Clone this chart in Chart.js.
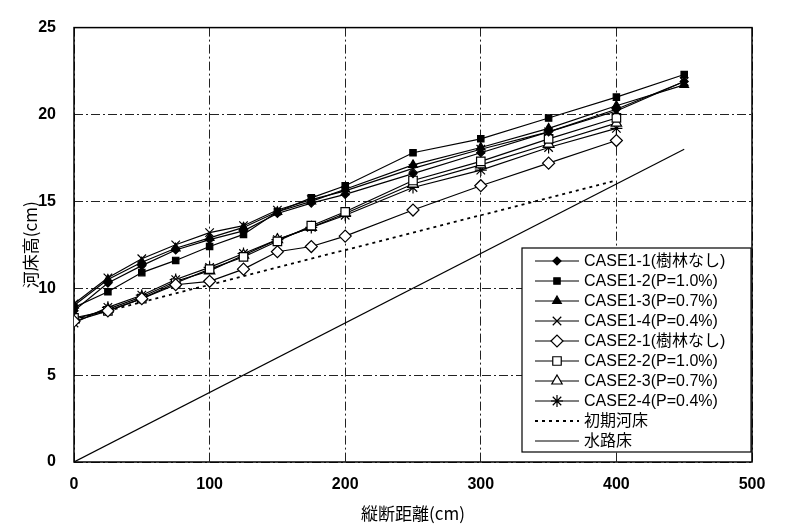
<!DOCTYPE html>
<html>
<head>
<meta charset="utf-8">
<script src="https://cdn.jsdelivr.net/npm/chart.js@4/dist/chart.umd.min.js"></script>
<style>
html,body{margin:0;padding:0;background:#fff;}
#wrap{width:788px;height:528px;position:relative;}
</style>
</head>
<body>
<div id="wrap"><canvas id="c" width="788" height="528"></canvas></div>
<script>
// ---- data ----
const distances = [0, 25, 50, 75, 100, 125, 150, 175, 200, 250, 300, 350, 400, 450];
const case1_1 = [8.7, 10.3, 11.3, 12.2, 12.8, 13.3, 14.3, 14.9, 15.4, 16.6, 17.8, 19.0, 20.3, 21.9];
const case1_2 = [8.9, 9.8, 10.9, 11.6, 12.4, 13.1, 14.4, 15.2, 15.9, 17.8, 18.6, 19.8, 21.0, 22.3];
const case1_3 = [9.0, 10.5, 11.5, 12.3, 12.9, 13.5, 14.4, 15.0, 15.7, 17.1, 18.1, 19.2, 20.5, 21.7];
const case1_4 = [9.1, 10.6, 11.7, 12.5, 13.2, 13.6, 14.5, 15.1, 15.6, 16.9, 18.0, 19.0, 20.2, 21.9];
const case2_1 = [8.1, 8.7, 9.4, 10.2, 10.4, 11.1, 12.1, 12.4, 13.0, 14.5, 15.9, 17.2, 18.5];
const case2_2 = [8.3, 8.7, 9.4, 10.3, 11.1, 11.8, 12.7, 13.6, 14.4, 16.2, 17.3, 18.6, 19.8];
const case2_3 = [8.2, 8.8, 9.5, 10.4, 11.0, 11.9, 12.8, 13.5, 14.3, 16.0, 17.1, 18.3, 19.5];
const case2_4 = [8.0, 8.9, 9.6, 10.5, 11.2, 12.0, 12.8, 13.5, 14.2, 15.8, 16.8, 18.1, 19.2];
const initialBedX = [0, 400];
const initialBedY = [8.2, 16.2];
const channelBedX = [0, 450];
const channelBedY = [0, 18.0];
const seriesLabels = ['CASE1-1(樹林なし)', 'CASE1-2(P=1.0%)', 'CASE1-3(P=0.7%)', 'CASE1-4(P=0.4%)',
  'CASE2-1(樹林なし)', 'CASE2-2(P=1.0%)', 'CASE2-3(P=0.7%)', 'CASE2-4(P=0.4%)', '初期河床', '水路床'];
const xTicks = [0, 100, 200, 300, 400, 500];
const yTicks = [0, 5, 10, 15, 20, 25];
const xTitle = '縦断距離(cm)';
const yTitle = '河床高(cm)';

function pts(xs, ys) { return ys.map((v, i) => ({x: xs[i], y: v})); }

const styleDefs = [
  {ps: 'rectRot', fill: '#000', r: 4},
  {ps: 'rect', fill: '#000', r: 4.5},
  {ps: 'triangle', fill: '#000', r: 5},
  {ps: 'crossRot', fill: '#000', r: 6},
  {ps: 'rectRot', fill: '#fff', r: 6},
  {ps: 'rect', fill: '#fff', r: 6},
  {ps: 'triangle', fill: '#fff', r: 6},
  {ps: 'star', fill: '#fff', r: 6}
];
const seriesData = [case1_1, case1_2, case1_3, case1_4, case2_1, case2_2, case2_3, case2_4];

const datasets = seriesData.map((vals, i) => ({
  label: seriesLabels[i],
  data: pts(distances, vals),
  borderColor: '#000',
  backgroundColor: styleDefs[i].fill,
  borderWidth: 1.2,
  pointStyle: styleDefs[i].ps,
  pointRadius: styleDefs[i].r,
  pointBorderWidth: 1.2,
  pointBorderColor: '#000',
  pointBackgroundColor: styleDefs[i].fill,
  fill: false,
  tension: 0
}));
datasets.push({
  label: seriesLabels[8], data: pts(initialBedX, initialBedY),
  borderColor: '#000', borderWidth: 1.8, borderDash: [3, 4], pointRadius: 0, fill: false
});
datasets.push({
  label: seriesLabels[9], data: pts(channelBedX, channelBedY),
  borderColor: '#000', borderWidth: 1.2, pointRadius: 0, fill: false
});

const framePlugin = {
  id: 'frame',
  beforeDatasetsDraw(chart) {
    const a = chart.chartArea, ctx = chart.ctx;
    ctx.save();
    ctx.setLineDash([]);
    ctx.strokeStyle = '#000';
    ctx.lineWidth = 1.5;
    ctx.strokeRect(a.left, a.top, a.right - a.left, a.bottom - a.top);
    ctx.restore();
  }
};

const legendPlugin = {
  id: 'boxLegend',
  afterDraw(chart) {
    const ctx = chart.ctx;
    const bx = 522, by = 248, bw = 229, bh = 204;
    ctx.save();
    ctx.setLineDash([]);
    ctx.fillStyle = '#fff';
    ctx.fillRect(bx, by, bw, bh);
    ctx.strokeStyle = '#000';
    ctx.lineWidth = 1.2;
    ctx.strokeRect(bx, by, bw, bh);
    ctx.font = '16px "Liberation Sans", "Noto Sans CJK JP", sans-serif';
    ctx.textBaseline = 'middle';
    ctx.textAlign = 'left';
    chart.data.datasets.forEach((ds, i) => {
      const y = 261 + i * 20;
      ctx.strokeStyle = '#000';
      ctx.lineWidth = ds.borderWidth || 1;
      ctx.setLineDash(ds.borderDash || []);
      ctx.beginPath();
      ctx.moveTo(535, y);
      ctx.lineTo(579, y);
      ctx.stroke();
      ctx.setLineDash([]);
      if (ds.pointRadius > 0) {
        ctx.fillStyle = ds.pointBackgroundColor;
        ctx.strokeStyle = '#000';
        ctx.lineWidth = ds.pointBorderWidth;
        Chart.helpers.drawPoint(ctx, {pointStyle: ds.pointStyle, rotation: 0, radius: ds.pointRadius, borderWidth: ds.pointBorderWidth}, 557, y);
      }
      ctx.fillStyle = '#000';
      ctx.fillText(ds.label, 584, y + 1);
    });
    ctx.restore();
  }
};

const gridOpts = {color: '#222', lineWidth: 1, drawTicks: false};
new Chart(document.getElementById('c'), {
  type: 'line',
  data: {datasets},
  plugins: [framePlugin, legendPlugin],
  options: {
    responsive: false,
    animation: false,
    layout: {padding: {left: 0, right: 36, top: 13, bottom: 0}},
    plugins: {legend: {display: false}, tooltip: {enabled: false}},
    scales: {
      x: {
        type: 'linear', min: 0, max: 500,
        afterBuildTicks(s) { s.ticks = xTicks.map(v => ({value: v})); },
        afterFit(s) { s.height = 66; },
        grid: gridOpts,
        border: {display: false, dash: [9, 3, 2, 3]},
        ticks: {color: '#000', padding: 13, font: {family: '"Liberation Sans", sans-serif', size: 16, weight: 'bold'}, maxRotation: 0},
        title: {display: true, text: xTitle, color: '#000', padding: {top: 6}, font: {family: '"Noto Sans CJK JP", sans-serif', size: 17}}
      },
      y: {
        type: 'linear', min: 0, max: 25,
        afterBuildTicks(s) { s.ticks = yTicks.map(v => ({value: v})); },
        afterFit(s) { s.width = 74; },
        grid: gridOpts,
        border: {display: false, dash: [9, 3, 2, 3]},
        ticks: {color: '#000', padding: 18, font: {family: '"Liberation Sans", sans-serif', size: 16, weight: 'bold'}},
        title: {display: true, text: yTitle, color: '#000', padding: {top: 20, bottom: 0}, font: {family: '"Noto Sans CJK JP", sans-serif', size: 17}}
      }
    }
  }
});
</script>
</body>
</html>
